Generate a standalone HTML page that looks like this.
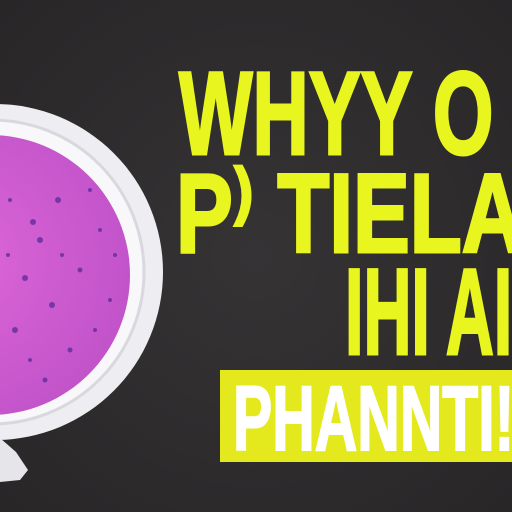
<!DOCTYPE html>
<html><head><meta charset="utf-8"><style>
html,body{margin:0;padding:0;background:#2f2d2e;}
svg{display:block}
text{font-family:"Liberation Sans",sans-serif;font-weight:700;}
</style></head><body>
<svg width="512" height="512" viewBox="0 0 512 512">
<defs>
<radialGradient id="bg" cx="50%" cy="50%" r="70%"><stop offset="0" stop-color="#353334"/><stop offset="1" stop-color="#282627"/></radialGradient>
<radialGradient id="pink" cx="40%" cy="45%" r="65%"><stop offset="0" stop-color="#dc66d8"/><stop offset="1" stop-color="#c052c8"/></radialGradient>
</defs>
<rect width="512" height="512" fill="url(#bg)"/>
<g>
<path d="M0 438 L16 452 L28 470 L20 480 L0 482 Z" fill="#e6e6ea"/>
<circle cx="-5" cy="272" r="168" fill="#eeeef2"/>
<circle cx="-8" cy="272" r="152" fill="#f8f8fa" stroke="#d8d8de" stroke-width="3"/>
<circle cx="-10" cy="275" r="140" fill="url(#pink)"/>
<g fill="#5a2a9a" opacity="0.75">
<circle cx="33" cy="222" r="3"/><circle cx="58" cy="200" r="3"/><circle cx="40" cy="240" r="3"/><circle cx="25" cy="278" r="3"/><circle cx="80" cy="270" r="2.5"/><circle cx="52" cy="305" r="3"/><circle cx="15" cy="330" r="3"/><circle cx="100" cy="230" r="2"/><circle cx="110" cy="300" r="2"/><circle cx="70" cy="350" r="2.5"/><circle cx="10" cy="200" r="2"/><circle cx="90" cy="190" r="2"/><circle cx="115" cy="255" r="2"/><circle cx="45" cy="380" r="2.5"/><circle cx="8" cy="255" r="2"/><circle cx="62" cy="255" r="2"/><circle cx="30" cy="360" r="2"/><circle cx="95" cy="330" r="2"/>
</g>
</g>
<g fill="#e9f51e" stroke="#e9f51e" stroke-width="3">
<text transform="translate(179 154) scale(0.66 1)" font-size="118">WHYY O</text>
<text transform="translate(176 252) scale(0.76 1)" font-size="112">P⁾ TIELAL</text>
<text transform="translate(345 354) scale(0.54 1)" font-size="123">IHI AI</text>
</g>
<rect x="220" y="370" width="292" height="92" fill="#e4e91e"/>
<text transform="translate(233 450) scale(0.64 1)" font-size="92" fill="#ffffff" stroke="#ffffff" stroke-width="2">PHANNTI!</text>
</svg>
</body></html>
